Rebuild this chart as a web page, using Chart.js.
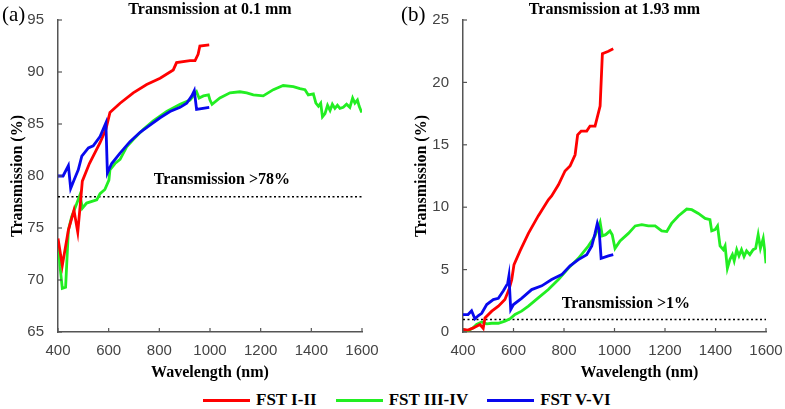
<!DOCTYPE html>
<html>
<head>
<meta charset="utf-8">
<script src="https://cdn.jsdelivr.net/npm/chart.js@4.4.1/dist/chart.umd.min.js"></script>
<style>
  body { margin: 0; background: #fff; width: 785px; height: 409px; position: relative; overflow: hidden; }
  #chartA { position: absolute; left: 0; top: 0; }
  #chartB { position: absolute; left: 393px; top: 0; }
  #legend { position: absolute; left: 203px; top: 390px; display: flex; align-items: center;
            font: bold 17px "Liberation Serif", serif; color: #000; }
  #legend .item { display: flex; align-items: center; margin-right: 19px; }
  #legend .swatch { width: 47px; height: 3px; margin-right: 6px; }
</style>
</head>
<body>
<canvas id="chartA" width="385" height="385"></canvas>
<canvas id="chartB" width="392" height="385"></canvas>
<div id="legend"></div>
<script>
// Skin transmission vs wavelength, two sample thicknesses
const seriesNames = ["FST I-II", "FST III-IV", "FST V-VI"];
const seriesColors = ["#ff0000", "#22ee22", "#0808ee"];

// (a) 0.1 mm
const redA_nm = [400, 417, 441, 463, 478, 487, 496, 524, 566, 589, 605, 645, 697, 750, 803, 855, 868, 921, 941, 953, 960, 997];
const redA_T = [74.0, 71.4, 74.8, 76.7, 74.6, 77.0, 79.5, 81.2, 83.2, 84.5, 86.1, 87.0, 88.0, 88.8, 89.4, 90.2, 90.9, 91.1, 91.1, 91.7, 92.5, 92.6];
const greenA_nm = [400, 408, 417, 430, 441, 454, 467, 487, 496, 513, 553, 566, 585, 601, 605, 625, 645, 671, 697, 737, 776, 829, 882, 921, 947, 957, 974, 994, 1000, 1008, 1039, 1079, 1118, 1145, 1171, 1210, 1250, 1289, 1329, 1355, 1375, 1388, 1408, 1418, 1428, 1437, 1444, 1454, 1464, 1474, 1483, 1493, 1503, 1513, 1526, 1539, 1552, 1563, 1572, 1582, 1589, 1599];
const greenA_T = [73.7, 71.3, 69.2, 69.3, 74.8, 76.1, 76.9, 78.2, 76.9, 77.4, 77.7, 78.3, 78.7, 79.6, 80.6, 81.2, 81.6, 82.8, 83.5, 84.5, 85.3, 86.2, 86.9, 87.3, 88.1, 87.5, 87.7, 87.8, 87.3, 86.9, 87.5, 88.0, 88.1, 88.0, 87.8, 87.7, 88.3, 88.7, 88.6, 88.4, 88.3, 87.8, 87.9, 87.0, 86.7, 87.0, 85.7, 86.0, 86.8, 86.3, 86.9, 86.5, 86.8, 86.5, 86.6, 86.9, 86.6, 87.5, 87.0, 87.3, 86.7, 86.1];
const blueA_nm = [400, 420, 441, 450, 463, 480, 494, 520, 539, 566, 589, 595, 612, 645, 684, 724, 763, 803, 842, 882, 908, 928, 938, 947, 997];
const blueA_T = [80.0, 80.0, 81.0, 78.8, 79.6, 80.6, 81.9, 82.7, 82.9, 83.8, 85.1, 80.3, 81.2, 82.2, 83.3, 84.2, 84.9, 85.6, 86.2, 86.6, 87.0, 87.7, 88.2, 86.4, 86.6];

// (b) 1.93 mm
const redB_nm = [400, 420, 441, 467, 480, 487, 514, 540, 566, 582, 593, 602, 626, 659, 698, 738, 751, 778, 804, 824, 844, 854, 868, 890, 903, 923, 943, 952, 976, 995];
const redB_T = [0.2, 0.15, 0.33, 0.6, 0.3, 1.13, 1.67, 2.07, 2.6, 3.4, 4.2, 5.4, 6.5, 7.9, 9.3, 10.6, 10.9, 11.8, 12.9, 13.3, 14.2, 15.8, 16.1, 16.1, 16.5, 16.5, 18.1, 22.3, 22.5, 22.7];
const greenB_nm = [400, 420, 440, 454, 474, 494, 514, 540, 566, 586, 606, 632, 659, 698, 738, 778, 817, 857, 897, 923, 943, 952, 965, 982, 991, 1002, 1022, 1055, 1082, 1108, 1134, 1161, 1187, 1207, 1226, 1253, 1286, 1306, 1332, 1359, 1378, 1385, 1398, 1408, 1418, 1431, 1438, 1447, 1457, 1467, 1474, 1484, 1493, 1503, 1513, 1523, 1536, 1549, 1559, 1569, 1578, 1589, 1595, 1600];
const greenB_T = [0.2, 0.1, 0.33, 0.6, 0.8, 0.65, 0.7, 0.7, 0.87, 1.05, 1.4, 1.67, 2.07, 2.73, 3.4, 4.2, 5.1, 5.9, 6.9, 7.7, 8.8, 7.7, 7.8, 8.1, 7.8, 6.7, 7.3, 7.9, 8.5, 8.6, 8.5, 8.5, 8.1, 8.05, 8.7, 9.3, 9.85, 9.8, 9.5, 9.1, 9.0, 8.1, 8.2, 8.5, 6.9, 6.6, 6.9, 5.1, 5.8, 6.2, 5.7, 6.6, 6.1, 6.6, 6.05, 6.5, 6.2, 6.6, 6.7, 7.8, 6.7, 7.5, 6.5, 5.5];
const blueB_nm = [400, 420, 434, 447, 460, 474, 494, 520, 540, 560, 577, 582, 589, 600, 632, 672, 712, 751, 791, 824, 857, 890, 910, 923, 932, 939, 947, 976, 995];
const blueB_T = [1.4, 1.4, 1.7, 1.05, 1.3, 1.5, 2.2, 2.6, 2.7, 3.3, 3.9, 4.5, 1.8, 2.2, 2.7, 3.4, 3.7, 4.2, 4.6, 5.3, 5.8, 6.2, 6.9, 7.9, 8.7, 8.2, 5.9, 6.1, 6.2];

// threshold lines
const thresholdA = 78;
const thresholdB = 1;
const xRange = [400, 1600];

function pts(xs, ys) {
    return xs.map((x, i) => ({ x: x, y: ys[i] }));
}

function lineSet(label, color, xs, ys, order) {
    return {
        label: label, data: pts(xs, ys), borderColor: color, backgroundColor: color,
        borderWidth: 2.8, pointRadius: 0, tension: 0, order: order
    };
}

function thresholdSet(v) {
    return {
        label: "threshold", data: pts(xRange, [v, v]), borderColor: "#000",
        borderWidth: 1.6, borderDash: [2, 2.5], pointRadius: 0, order: 3
    };
}

// text on the panel + small inward tick marks
const panelText = {
    id: "panelText",
    afterDraw(chart, args, o) {
        const ctx = chart.ctx;
        const a = chart.chartArea;
        const x = chart.scales.x, y = chart.scales.y;
        ctx.save();
        ctx.strokeStyle = "#555";
        ctx.lineWidth = 1.2;
        x.ticks.forEach(t => {
            const px = x.getPixelForValue(t.value);
            ctx.beginPath(); ctx.moveTo(px, a.bottom); ctx.lineTo(px, a.bottom - 4); ctx.stroke();
        });
        y.ticks.forEach(t => {
            const py = y.getPixelForValue(t.value);
            ctx.beginPath(); ctx.moveTo(a.left, py); ctx.lineTo(a.left + 4, py); ctx.stroke();
        });
        ctx.fillStyle = "#000";
        ctx.textAlign = "center";
        ctx.textBaseline = "middle";
        ctx.font = 'bold 16px "Liberation Serif"';
        ctx.fillText(o.title, (a.left + a.right) / 2, 10);
        ctx.fillText(o.note, x.getPixelForValue(o.noteAt[0]), y.getPixelForValue(o.noteAt[1]));
        ctx.fillText("Wavelength (nm)", (a.left + a.right) / 2 + o.xTitleShift, 373);
        ctx.textAlign = "left";
        ctx.font = '21px "Liberation Serif"';
        ctx.fillText(o.letter, o.letterX, 15);
        ctx.restore();
    }
};

function makeChart(id, sets, yMin, yMax, yWidth, yTitlePad, padRight, text) {
    return new Chart(document.getElementById(id), {
        type: "line",
        data: { datasets: sets },
        options: {
            responsive: false,
            animation: false,
            layout: { padding: { left: 0, right: padRight, top: 20, bottom: 0 } },
            plugins: { legend: { display: false }, tooltip: { enabled: false }, panelText: text },
            scales: {
                x: {
                    type: "linear", min: xRange[0], max: xRange[1],
                    grid: { display: false },
                    border: { display: true, color: "#555", width: 1.5 },
                    ticks: { stepSize: 200, color: "#444", padding: 2, maxRotation: 0,
                             callback: v => String(v),
                             font: { family: "Liberation Sans", size: 15 } },
                    afterFit(s) { s.height = 53; }
                },
                y: {
                    min: yMin, max: yMax,
                    grid: { display: false },
                    border: { display: true, color: "#555", width: 1.5 },
                    ticks: { stepSize: 5, color: "#444", padding: 6,
                             font: { family: "Liberation Sans", size: 15 } },
                    title: { display: true, text: "Transmission (%)", color: "#000",
                             padding: { top: yTitlePad, bottom: 0 },
                             font: { family: "Liberation Serif", size: 16, weight: "bold" } },
                    afterFit(s) { s.width = yWidth; }
                }
            }
        },
        plugins: [panelText]
    });
}

makeChart("chartA", [
    lineSet(seriesNames[2], seriesColors[2], blueA_nm, blueA_T, 0),
    lineSet(seriesNames[0], seriesColors[0], redA_nm, redA_T, 1),
    lineSet(seriesNames[1], seriesColors[1], greenA_nm, greenA_T, 2),
    thresholdSet(thresholdA)
], 65, 95, 58, 8, 23, {
    title: "Transmission at 0.1 mm", note: "Transmission >78%", noteAt: [1047, 79.65],
    letter: "(a)", letterX: 2, xTitleShift: 0
});

makeChart("chartB", [
    lineSet(seriesNames[2], seriesColors[2], blueB_nm, blueB_T, 0),
    lineSet(seriesNames[0], seriesColors[0], redB_nm, redB_T, 1),
    lineSet(seriesNames[1], seriesColors[1], greenB_nm, greenB_T, 2),
    thresholdSet(thresholdB)
], 0, 25, 70, 19, 19, {
    title: "Transmission at 1.93 mm", note: "Transmission >1%", noteAt: [1045, 2.28],
    letter: "(b)", letterX: 8, xTitleShift: 25
});

// legend below both panels
const legend = document.getElementById("legend");
seriesNames.forEach((name, i) => {
    const item = document.createElement("div");
    item.className = "item";
    item.innerHTML = '<span class="swatch" style="background:' + seriesColors[i] + '"></span><span>' + name + "</span>";
    legend.appendChild(item);
});
</script>
</body>
</html>
